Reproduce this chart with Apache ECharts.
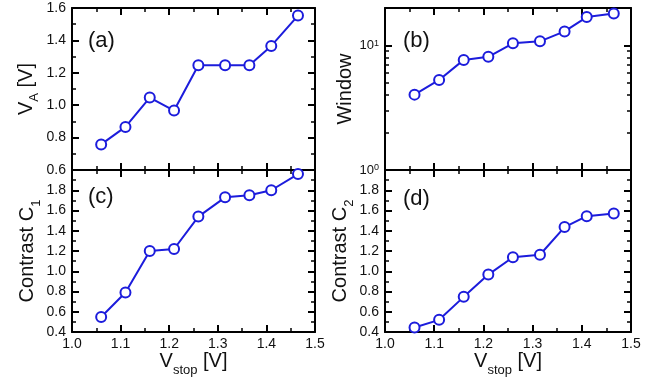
<!DOCTYPE html>
<html><head><meta charset="utf-8">
<script src="https://cdn.jsdelivr.net/npm/echarts@6/dist/echarts.min.js"></script>
<style>html,body{margin:0;padding:0;background:#fff}#c{width:669px;height:381px}</style>
</head><body><div id="c"></div>
<script>
// ---- data ----
const vStop = [1.06, 1.11, 1.16, 1.21, 1.26, 1.315, 1.365, 1.41, 1.465];
const vA = [0.758, 0.866, 1.047, 0.967, 1.247, 1.247, 1.247, 1.366, 1.553];
const windowVals = [4.03, 5.29, 7.66, 8.11, 10.4, 10.8, 12.97, 16.9, 18.1];
const contrastC1 = [0.548, 0.79, 1.2, 1.22, 1.54, 1.73, 1.75, 1.80, 1.96];
const contrastC2 = [0.445, 0.52, 0.747, 0.967, 1.138, 1.163, 1.436, 1.544, 1.571];
const xTicks = ['1.0', '1.1', '1.2', '1.3', '1.4', '1.5'];
const panelLabels = ['(a)', '(b)', '(c)', '(d)'];

const FONT = '"Liberation Sans", Arial, Helvetica, sans-serif';
const BLUE = '#1c1cdc';
const INK = '#111';

const grids = [
  {left: 72, top: 8, width: 243, height: 162},
  {left: 385, top: 8, width: 246, height: 162},
  {left: 72, top: 170, width: 243, height: 162},
  {left: 385, top: 170, width: 246, height: 162}
];

const lineAx = {show: true, onZero: false, lineStyle: {color: '#000', width: 2}};
const tickMaj = {show: true, inside: true, length: 7, lineStyle: {color: '#000', width: 2}};
const tickMin = (n) => ({show: true, splitNumber: n, length: 4, lineStyle: {color: '#000', width: 1.5}});

const nameRich = {
  v: {fontSize: 20, lineHeight: 22, verticalAlign: 'top', fontFamily: FONT, color: INK},
  s: {fontSize: 13, lineHeight: 13, padding: [12, 0, 0, 0], verticalAlign: 'top', fontFamily: FONT, color: INK}
};

function xAx(gi, pos, labels) {
  return {
    type: 'value', gridIndex: gi, position: pos, min: 1.0, max: 1.5, interval: 0.1,
    axisLine: lineAx, axisTick: tickMaj, minorTick: tickMin(2),
    splitLine: {show: false}, minorSplitLine: {show: false},
    axisLabel: {show: labels, margin: 5, fontSize: 14, color: INK, fontFamily: FONT,
      formatter: v => xTicks.find(t => Math.abs(parseFloat(t) - v) < 1e-6) || ''},
    name: labels ? '{v|V}{s|stop}{v| [V]}' : '',
    nameLocation: 'middle', nameGap: 17,
    nameTextStyle: {rich: nameRich}
  };
}

function yLin(gi, pos, min, max, labels, name, gap) {
  return {
    type: 'value', gridIndex: gi, position: pos, min: min, max: max, interval: 0.2,
    axisLine: lineAx, axisTick: tickMaj, minorTick: tickMin(2),
    splitLine: {show: false}, minorSplitLine: {show: false},
    axisLabel: {show: labels, margin: 6, fontSize: 14, color: INK, fontFamily: FONT,
      showMaxLabel: max < 1.7, formatter: v => v.toFixed(1)},
    name: name || '', nameLocation: 'middle', nameRotate: 90, nameGap: gap || 30,
    nameTextStyle: {rich: nameRich}
  };
}

function yLog(gi, pos, opts) {
  return Object.assign({
    type: 'log', logBase: 10, gridIndex: gi, position: pos, min: 1, max: 20,
    axisLine: lineAx, axisTick: tickMaj, minorTick: tickMin(9),
    splitLine: {show: false}, minorSplitLine: {show: false},
    axisLabel: {show: false}
  }, opts);
}

const xAxes = [];
grids.forEach((g, gi) => {
  xAxes.push(xAx(gi, 'bottom', gi >= 2));
  xAxes.push(xAx(gi, 'top', false));
});

const yAxes = [
  yLin(0, 'left', 0.6, 1.6, true, '{v|V}{s|A}{v| [V]}', 34),
  yLin(0, 'right', 0.6, 1.6, false),
  yLog(1, 'left', {
    axisLabel: {show: true, margin: 6, fontSize: 13, color: INK, fontFamily: FONT,
      formatter: v => Math.abs(v - 1) < 1e-6 ? '10{p|0}' : (Math.abs(v - 10) < 1e-6 ? '10{p|1}' : ''),
      rich: {p: {fontSize: 9, lineHeight: 9, verticalAlign: 'top', fontFamily: FONT, color: INK}}},
    name: '{v|Window}', nameLocation: 'middle', nameRotate: 90, nameGap: 28,
    nameTextStyle: {rich: nameRich}
  }),
  yLog(1, 'right', {}),
  yLin(2, 'left', 0.4, 2.0, true, '{v|Contrast C}{s|1}', 32),
  yLin(2, 'right', 0.4, 2.0, false),
  yLin(3, 'left', 0.4, 2.0, true, '{v|Contrast C}{s|2}', 31),
  yLin(3, 'right', 0.4, 2.0, false)
];

const seriesData = [vA, windowVals, contrastC1, contrastC2];
const series = seriesData.map((arr, gi) => ({
  type: 'line', xAxisIndex: 2 * gi, yAxisIndex: 2 * gi,
  data: vStop.map((x, i) => [x, arr[i]]),
  symbol: 'circle', symbolSize: 10, showAllSymbol: true,
  itemStyle: {color: '#fff', borderColor: BLUE, borderWidth: 2},
  lineStyle: {color: BLUE, width: 2},
  emphasis: {disabled: true}, silent: true, z: 3
}));

const labelPos = [[88, 30], [403, 30], [88, 186], [403, 188]];
const graphic = panelLabels.map((t, i) => ({
  type: 'text', left: labelPos[i][0], top: labelPos[i][1],
  style: {text: t, font: '22px ' + FONT, fill: INK}
}));

const chart = echarts.init(document.getElementById('c'), null, {renderer: 'canvas'});
chart.setOption({
  animation: false,
  backgroundColor: '#fff',
  grid: grids,
  xAxis: xAxes,
  yAxis: yAxes,
  series: series,
  graphic: graphic
});
</script>
</body></html>
